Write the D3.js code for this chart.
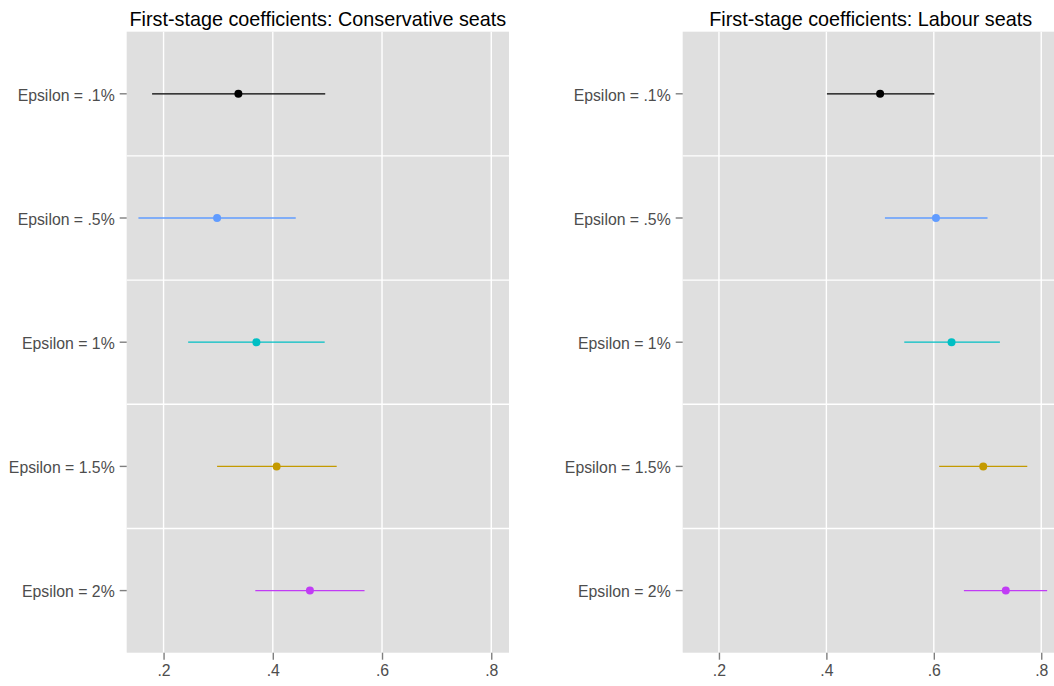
<!DOCTYPE html>
<html><head><meta charset="utf-8">
<script src="https://cdn.jsdelivr.net/npm/d3@7"></script>
<style>body{margin:0;background:#fff}svg{display:block}text{font-family:"Liberation Sans",Arial,Helvetica,sans-serif}</style>
</head><body>
<svg id="c" width="1054" height="686"></svg>
<script>
const categories = ["Epsilon = .1%", "Epsilon = .5%", "Epsilon = 1%", "Epsilon = 1.5%", "Epsilon = 2%"];
const colors = ["#000000", "#619CFF", "#00BFC4", "#C49A00", "#C13CF5"];
const xTicks = [0.2, 0.4, 0.6, 0.8];
const xTickLabels = [".2", ".4", ".6", ".8"];

const consEst = [0.337, 0.298, 0.370, 0.407, 0.468];
const consLo  = [0.179, 0.154, 0.245, 0.298, 0.368];
const consHi  = [0.496, 0.442, 0.495, 0.517, 0.568];

const labEst = [0.500, 0.604, 0.633, 0.692, 0.734];
const labLo  = [0.401, 0.509, 0.545, 0.610, 0.656];
const labHi  = [0.601, 0.700, 0.723, 0.774, 0.811];

const titles = ["First-stage coefficients: Conservative seats", "First-stage coefficients: Labour seats"];

const svg = d3.select("#c");
const panelTop = 31.7, panelBottom = 652.7;
const panels = [
  {x0: 126.7, x1: 509, est: consEst, lo: consLo, hi: consHi, title: titles[0]},
  {x0: 682.7, x1: 1058.7, est: labEst, lo: labLo, hi: labHi, title: titles[1]}
];
const y = d3.scaleBand().domain(categories).range([panelTop, panelBottom]).padding(0);

panels.forEach(p => {
  const x = d3.scaleLinear().domain([0.1325, 0.8325]).range([p.x0, p.x1]);
  const g = svg.append("g");
  g.append("rect").attr("x", p.x0).attr("y", panelTop).attr("width", p.x1 - p.x0).attr("height", panelBottom - panelTop).attr("fill", "#DFDFDF");
  g.selectAll(".vg").data(xTicks).join("line")
    .attr("x1", d => x(d)).attr("x2", d => x(d)).attr("y1", panelTop).attr("y2", panelBottom)
    .attr("stroke", "#fff").attr("stroke-width", 1.4);
  g.selectAll(".hg").data(categories.slice(1)).join("line")
    .attr("x1", p.x0).attr("x2", p.x1).attr("y1", d => y(d)).attr("y2", d => y(d))
    .attr("stroke", "#fff").attr("stroke-width", 1.4);
  const xa = d3.axisBottom(x).tickValues(xTicks).tickFormat((d, i) => xTickLabels[i]).tickSize(7).tickPadding(5);
  const ax = g.append("g").attr("transform", `translate(0,${panelBottom})`).call(xa);
  ax.select(".domain").remove();
  ax.selectAll(".tick line").attr("stroke", "#7f7f7f").attr("stroke-width", 1.4);
  ax.selectAll(".tick text").attr("fill", "#4D4D4D").attr("font-size", "15.8px").attr("dy", "0.72em");
  const ya = d3.axisLeft(y).tickSize(7).tickPadding(5);
  const ay = g.append("g").attr("transform", `translate(${p.x0},0)`).call(ya);
  ay.select(".domain").remove();
  ay.selectAll(".tick line").attr("stroke", "#7f7f7f").attr("stroke-width", 1.4);
  ay.selectAll(".tick text").attr("fill", "#4D4D4D").attr("font-size", "15.8px").attr("dy", "0.43em");
  g.selectAll(".eb").data(categories).join("line")
    .attr("x1", (d, i) => x(p.lo[i])).attr("x2", (d, i) => x(p.hi[i]))
    .attr("y1", d => y(d) + y.bandwidth() / 2).attr("y2", d => y(d) + y.bandwidth() / 2)
    .attr("stroke", (d, i) => colors[i]).attr("stroke-width", 1.3);
  g.selectAll(".pt").data(categories).join("circle")
    .attr("cx", (d, i) => x(p.est[i])).attr("cy", d => y(d) + y.bandwidth() / 2)
    .attr("r", 4).attr("fill", (d, i) => colors[i]);
  g.append("text").attr("x", (p.x0 + p.x1) / 2).attr("y", 26).attr("text-anchor", "middle")
    .attr("font-size", "19.8px").attr("fill", "#000").text(p.title);
});
</script>
</body></html>
